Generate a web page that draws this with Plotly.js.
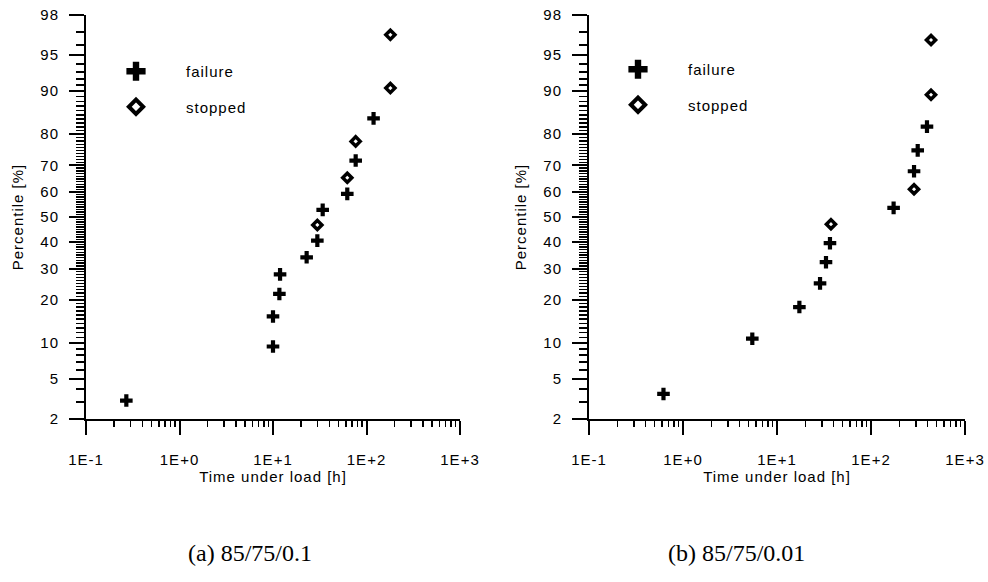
<!DOCTYPE html>
<html>
<head>
<meta charset="utf-8">
<script src="https://cdn.plot.ly/plotly-3.0.1.min.js"></script>
<style>
  html, body { margin: 0; padding: 0; background: #fff; }
  #chart { width: 988px; height: 582px; }
  text { letter-spacing: 1px; }
  text.annotation-text { letter-spacing: 0 !important; }
</style>
</head>
<body>
<div id="chart"></div>
<script>
// ---- data (a) 85/75/0.1 ----
const aFailTime = [0.27, 10, 10, 11.7, 11.9, 22.9, 29.8, 34, 62.3, 76.6, 119];
const aFailPct  = [3.1, 9.4, 15.6, 21.7, 28.0, 34.1, 40.5, 52.9, 59.3, 71.7, 84.2];
const aStopTime = [29.8, 62.3, 76.6, 180, 180];
const aStopPct  = [46.8, 65.5, 77.9, 90.5, 96.8];

// ---- data (b) 85/75/0.01 ----
const bFailTime = [0.62, 5.46, 17.3, 28.7, 33.2, 36.6, 174, 287, 314, 394];
const bFailPct  = [3.6, 10.8, 18.0, 25.0, 32.3, 39.5, 53.7, 67.9, 75.1, 82.1];
const bStopTime = [37.5, 287, 435, 435];
const bStopPct  = [47.1, 61.1, 89.3, 96.4];

// ---- tick labels ----
const xTickVals = [0.1, 1, 10, 100, 1000];
const xTickText = ['1E-1', '1E+0', '1E+1', '1E+2', '1E+3'];
const yTickPct  = [2, 5, 10, 20, 30, 40, 50, 60, 70, 80, 90, 95, 98];
const seriesNames = ['failure', 'stopped'];
const captions = ['(a) 85/75/0.1', '(b) 85/75/0.01'];

// inverse standard normal CDF (Acklam) -> normal probability scale
function normInv(p) {
  const a=[-3.969683028665376e+01,2.209460984245205e+02,-2.759285104469687e+02,1.383577518672690e+02,-3.066479806614716e+01,2.506628277459239e+00];
  const b=[-5.447609879822406e+01,1.615858368580409e+02,-1.556989798598866e+02,6.680131188771972e+01,-1.328068155288572e+01];
  const c=[-7.784894002430293e-03,-3.223964580411365e-01,-2.400758277161838e+00,-2.549671348138260e+00,4.374664141464968e+00,2.938163982698783e+00];
  const d=[7.784695709041462e-03,3.224671290700398e-01,2.445134137142996e+00,3.754408661907416e+00];
  const pl = 0.02425, ph = 1 - pl;
  let q, r;
  if (p < pl) {
    q = Math.sqrt(-2 * Math.log(p));
    return (((((c[0]*q+c[1])*q+c[2])*q+c[3])*q+c[4])*q+c[5]) / ((((d[0]*q+d[1])*q+d[2])*q+d[3])*q+1);
  }
  if (p > ph) {
    q = Math.sqrt(-2 * Math.log(1 - p));
    return -(((((c[0]*q+c[1])*q+c[2])*q+c[3])*q+c[4])*q+c[5]) / ((((d[0]*q+d[1])*q+d[2])*q+d[3])*q+1);
  }
  q = p - 0.5; r = q * q;
  return (((((a[0]*r+a[1])*r+a[2])*r+a[3])*r+a[4])*r+a[5])*q / (((((b[0]*r+b[1])*r+b[2])*r+b[3])*r+b[4])*r+1);
}
const zp = pct => normInv(pct / 100);

// minor ticks
const xMinor = [];
[0.1, 1, 10, 100].forEach(dec => { for (let k = 2; k <= 9; k++) xMinor.push(dec * k); });
const yMinor = [];
for (let p = 3; p <= 97; p++) if (!yTickPct.includes(p)) yMinor.push(zp(p));

const failMarker = { symbol: 'cross', size: 10.5, color: 'black', line: { width: 0 } };
const stopMarker = { symbol: 'diamond-open', size: 7, color: 'black', line: { width: 3.5, color: 'black' } };
const failLegMarker = { symbol: 'cross', size: 16, color: 'black', line: { width: 0 } };
const stopLegMarker = { symbol: 'diamond-open', size: 11, color: 'black', line: { width: 4, color: 'black' } };

const traces = [
  { x: aFailTime, y: aFailPct.map(zp), mode: 'markers', marker: failMarker, xaxis: 'x', yaxis: 'y', showlegend: false, cliponaxis: false },
  { x: aStopTime, y: aStopPct.map(zp), mode: 'markers', marker: stopMarker, xaxis: 'x', yaxis: 'y', showlegend: false, cliponaxis: false },
  { x: bFailTime, y: bFailPct.map(zp), mode: 'markers', marker: failMarker, xaxis: 'x2', yaxis: 'y2', showlegend: false, cliponaxis: false },
  { x: bStopTime, y: bStopPct.map(zp), mode: 'markers', marker: stopMarker, xaxis: 'x2', yaxis: 'y2', showlegend: false, cliponaxis: false },
  // legend entries
  { x: [null], y: [null], mode: 'markers', marker: failLegMarker, name: seriesNames[0], legend: 'legend', legendgroup: 'a1', xaxis: 'x', yaxis: 'y' },
  { x: [null], y: [null], mode: 'markers', marker: stopLegMarker, name: seriesNames[1], legend: 'legend', legendgroup: 'a2', xaxis: 'x', yaxis: 'y' },
  { x: [null], y: [null], mode: 'markers', marker: failLegMarker, name: seriesNames[0], legend: 'legend2', legendgroup: 'b1', xaxis: 'x2', yaxis: 'y2' },
  { x: [null], y: [null], mode: 'markers', marker: stopLegMarker, name: seriesNames[1], legend: 'legend2', legendgroup: 'b2', xaxis: 'x2', yaxis: 'y2' }
];

const W = 988, H = 582;
const yDomain = [1 - 419 / H, 1 - 15 / H];

function xAxis(domain, anchor) {
  return {
    domain: domain, anchor: anchor, type: 'log', range: [-1, 3],
    showline: true, linecolor: 'black', linewidth: 2,
    showgrid: false, zeroline: false,
    ticks: 'outside', ticklen: 14, tickwidth: 2, tickcolor: 'black',
    tickmode: 'array', tickvals: xTickVals, ticktext: xTickText,
    ticklabelstandoff: 12,
    tickfont: { size: 15, color: 'black' },
    minor: { tickmode: 'array', tickvals: xMinor, ticks: 'outside', ticklen: 6, tickwidth: 1.5, tickcolor: 'black', showgrid: false },
    title: { text: 'Time under load [h]', font: { size: 15, color: 'black' }, standoff: 4 },
    automargin: false
  };
}
function yAxis(anchor) {
  return {
    domain: yDomain, anchor: anchor, range: [zp(2), zp(98)],
    showline: true, linecolor: 'black', linewidth: 2,
    showgrid: false, zeroline: false,
    ticks: 'outside', ticklen: 15, tickwidth: 2, tickcolor: 'black',
    tickmode: 'array', tickvals: yTickPct.map(zp), ticktext: yTickPct.map(String),
    ticklabelstandoff: 7,
    tickfont: { size: 15, color: 'black' },
    minor: { tickmode: 'array', tickvals: yMinor, ticks: 'outside', ticklen: 8, tickwidth: 1.5, tickcolor: 'black', showgrid: false },
    title: { text: 'Percentile [%]', font: { size: 15, color: 'black' }, standoff: 13 },
    automargin: false
  };
}

const legendBase = {
  xanchor: 'left', yanchor: 'top', bgcolor: 'rgba(0,0,0,0)', borderwidth: 0,
  itemwidth: 90, tracegroupgap: 13, traceorder: 'grouped',
  font: { size: 15, color: 'black', family: 'Liberation Sans, Arial, sans-serif' }
};

const layout = {
  width: W, height: H,
  margin: { l: 0, r: 0, t: 0, b: 0 },
  paper_bgcolor: 'white', plot_bgcolor: 'white',
  font: { family: 'Liberation Sans, Arial, sans-serif', size: 15, color: 'black' },
  showlegend: true,
  xaxis: xAxis([86 / W, 460 / W], 'y'),
  yaxis: yAxis('x'),
  xaxis2: xAxis([589 / W, 965 / W], 'y2'),
  yaxis2: yAxis('x2'),
  legend: Object.assign({}, legendBase, { x: 86 / W, y: 1 - 55 / H }),
  legend2: Object.assign({}, legendBase, { x: 588 / W, y: 1 - 53 / H }),
  annotations: [
    { text: captions[0], xref: 'paper', yref: 'paper', x: 250 / W, y: 1 - 553 / H, xanchor: 'center', yanchor: 'middle', showarrow: false,
      font: { family: 'Liberation Serif, Times New Roman, serif', size: 24, color: 'black' } },
    { text: captions[1], xref: 'paper', yref: 'paper', x: 736 / W, y: 1 - 553 / H, xanchor: 'center', yanchor: 'middle', showarrow: false,
      font: { family: 'Liberation Serif, Times New Roman, serif', size: 24, color: 'black' } }
  ]
};

Plotly.newPlot('chart', traces, layout, { staticPlot: true, displayModeBar: false });
</script>
</body>
</html>
